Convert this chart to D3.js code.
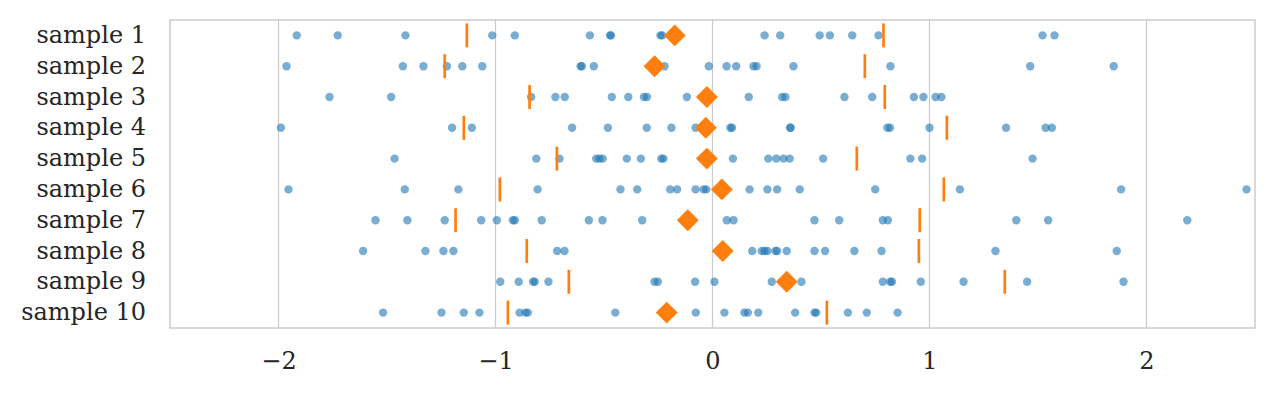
<!DOCTYPE html>
<html>
<head>
<meta charset="utf-8">
<script src="https://cdn.jsdelivr.net/npm/d3@7"></script>
<style>
  body { margin: 0; background: #fff; }
  svg text { font-family: "DejaVu Serif", serif; fill: #262626; }
</style>
</head>
<body>
<div id="chart"></div>
<script>
const samples = ['sample 1', 'sample 2', 'sample 3', 'sample 4', 'sample 5',
  'sample 6', 'sample 7', 'sample 8', 'sample 9', 'sample 10'];

const s1 = [-1.916, -1.727, -1.415, -1.015, -0.911, -0.565, -0.472, -0.468, -0.24, -0.232,
  0.24, 0.312, 0.494, 0.541, 0.644, 0.765, 1.521, 1.576];
const s2 = [-1.963, -1.427, -1.332, -1.224, -1.153, -1.061, -0.608, -0.602, -0.547, -0.221,
  -0.017, 0.065, 0.109, 0.189, 0.203, 0.373, 0.82, 1.464, 1.849];
const s3 = [-1.765, -1.481, -0.836, -0.724, -0.681, -0.464, -0.388, -0.316, -0.302, -0.118,
  0.167, 0.321, 0.336, 0.608, 0.736, 0.928, 0.972, 1.028, 1.055];
const s4 = [-1.989, -1.2, -1.109, -0.647, -0.482, -0.303, -0.189, -0.078, 0.082, 0.09,
  0.357, 0.361, 0.806, 0.818, 1.0, 1.353, 1.535, 1.564];
const s5 = [-1.465, -0.812, -0.705, -0.536, -0.521, -0.506, -0.395, -0.33, -0.236, -0.226,
  0.094, 0.257, 0.294, 0.327, 0.356, 0.51, 0.912, 0.966, 1.475];
const s6 = [-1.954, -1.418, -1.171, -0.806, -0.424, -0.347, -0.195, -0.163, -0.078, -0.041,
  -0.029, 0.171, 0.253, 0.298, 0.402, 0.75, 1.14, 1.883, 2.461];
const s7 = [-1.553, -1.406, -1.234, -1.066, -0.994, -0.92, -0.911, -0.787, -0.57, -0.507,
  -0.324, 0.066, 0.097, 0.47, 0.584, 0.785, 0.808, 1.4, 1.547, 2.188];
const s8 = [-1.61, -1.323, -1.24, -1.194, -0.716, -0.682, 0.183, 0.227, 0.24, 0.253,
  0.29, 0.298, 0.342, 0.47, 0.519, 0.654, 0.779, 1.304, 1.863];
const s9 = [-0.978, -0.893, -0.827, -0.819, -0.756, -0.267, -0.252, -0.08, 0.009, 0.273,
  0.41, 0.785, 0.819, 0.827, 0.96, 1.157, 1.45, 1.894];
const s10 = [-1.518, -1.249, -1.146, -1.074, -0.889, -0.862, -0.851, -0.448, -0.077, 0.055,
  0.147, 0.163, 0.211, 0.381, 0.47, 0.478, 0.624, 0.711, 0.853];
const values = [s1, s2, s3, s4, s5, s6, s7, s8, s9, s10];

const means = [-0.174, -0.267, -0.026, -0.031, -0.026, 0.043, -0.114, 0.047, 0.342, -0.211];
const lower = [-1.132, -1.234, -0.843, -1.146, -0.717, -0.98, -1.184, -0.856, -0.662, -0.943];
const upper = [0.788, 0.702, 0.794, 1.08, 0.665, 1.066, 0.955, 0.951, 1.347, 0.527];
const xTicks = [-2, -1, 0, 1, 2];

const width = 1275, height = 394;
const margin = {top: 20, right: 20, bottom: 66, left: 170};

const svg = d3.select('#chart').append('svg')
    .attr('width', width)
    .attr('height', height);

const x = d3.scaleLinear()
    .domain([-2.5, 2.5])
    .range([margin.left, width - margin.right]);

const y = d3.scaleBand()
    .domain(samples)
    .range([margin.top, height - margin.bottom]);

// grid
svg.append('g')
    .selectAll('line')
    .data(xTicks)
    .enter()
    .append('line')
    .attr('x1', d => x(d))
    .attr('x2', d => x(d))
    .attr('y1', margin.top)
    .attr('y2', height - margin.bottom)
    .attr('stroke', '#cccccc')
    .attr('stroke-width', 1.25);

// points
values.forEach((vals, i) => {
  svg.append('g')
      .selectAll('circle')
      .data(vals)
      .enter()
      .append('circle')
      .attr('cx', d => x(d))
      .attr('cy', y(samples[i]) + y.bandwidth() / 2)
      .attr('r', 4.2)
      .attr('fill', '#1f77b4')
      .attr('fill-opacity', 0.6);
});

// interval ticks
const rows = samples.map((s, i) => ({s, m: means[i], lo: lower[i], hi: upper[i]}));
const ticks = svg.append('g');
['lo', 'hi'].forEach(k => {
  ticks.selectAll('line.' + k)
      .data(rows)
      .enter()
      .append('line')
      .attr('class', k)
      .attr('x1', d => x(d[k]))
      .attr('x2', d => x(d[k]))
      .attr('y1', d => y(d.s) + y.bandwidth() / 2 - 12)
      .attr('y2', d => y(d.s) + y.bandwidth() / 2 + 12)
      .attr('stroke', '#ff7f0e')
      .attr('stroke-width', 2.7);
});

// mean diamonds
svg.append('g')
    .selectAll('path')
    .data(rows)
    .enter()
    .append('path')
    .attr('d', d3.symbol().type(d3.symbolSquare).size(240))
    .attr('transform', d => `translate(${x(d.m)},${y(d.s) + y.bandwidth() / 2}) rotate(45)`)
    .attr('fill', '#ff7f0e');

// frame
svg.append('rect')
    .attr('x', margin.left)
    .attr('y', margin.top)
    .attr('width', width - margin.left - margin.right)
    .attr('height', height - margin.top - margin.bottom)
    .attr('fill', 'none')
    .attr('stroke', '#cccccc')
    .attr('stroke-width', 1.5);

// axes
const xAxis = svg.append('g')
    .attr('transform', `translate(0,${height - margin.bottom})`)
    .call(d3.axisBottom(x).tickValues(xTicks).tickSize(0).tickPadding(24)
        .tickFormat(d => d3.format('d')(d).replace('-', '\u2212')));
xAxis.select('.domain').remove();
xAxis.selectAll('text').attr('font-size', 24).style('fill', '#262626');

const yAxis = svg.append('g')
    .attr('transform', `translate(${margin.left},0)`)
    .call(d3.axisLeft(y).tickSize(0).tickPadding(24));
yAxis.select('.domain').remove();
yAxis.selectAll('text').attr('font-size', 24).style('fill', '#262626');
</script>
</body>
</html>
